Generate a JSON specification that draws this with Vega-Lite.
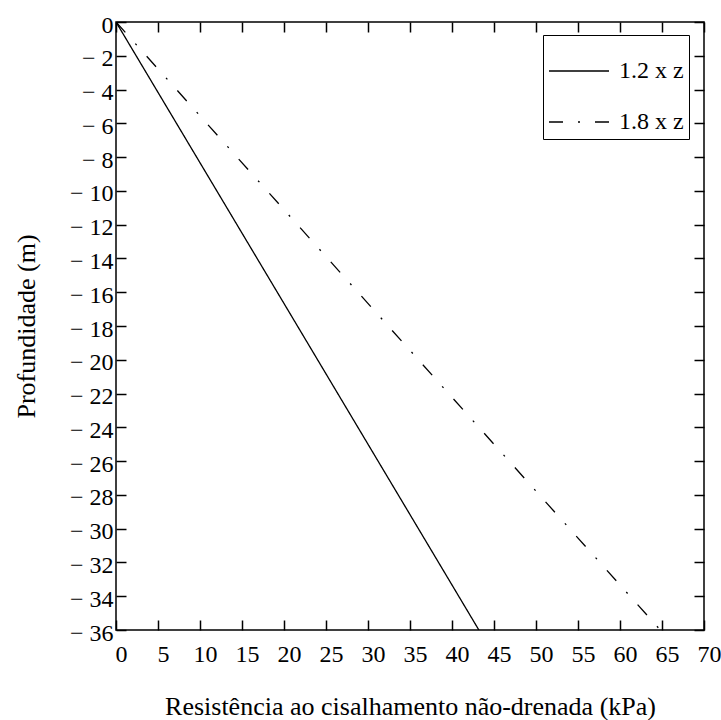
{
  "$schema": "https://vega.github.io/schema/vega-lite/v6.json",
  "width": 588,
  "height": 608,
  "autosize": {"type": "none"},
  "padding": {"left": 116, "top": 22, "right": 17, "bottom": 90},
  "background": "white",
  "config": {
    "font": "Liberation Serif",
    "view": {"stroke": "black", "strokeWidth": 1.5},
    "axis": {
      "domain": false,
      "grid": false,
      "tickColor": "black",
      "tickWidth": 1.5,
      "tickSize": -10,
      "labelColor": "black",
      "labelFont": "Liberation Serif",
      "labelFontSize": 24,
      "titleFont": "Liberation Serif",
      "titleFontSize": 26,
      "titleFontWeight": "normal",
      "titleColor": "black"
    },
    "legend": {
      "labelFont": "Liberation Serif",
      "labelFontSize": 24,
      "labelColor": "black"
    }
  },
  "data": {
    "values": [
      {"series": "1.2 x z", "strength": 0, "depth": 0},
      {"series": "1.2 x z", "strength": 43.2, "depth": -36},
      {"series": "1.8 x z", "strength": 0, "depth": 0},
      {"series": "1.8 x z", "strength": 64.8, "depth": -36}
    ]
  },
  "resolve": {"axis": {"x": "independent", "y": "independent"}},
  "layer": [
    {
      "mark": {"type": "line", "color": "black", "strokeWidth": 1.3, "clip": true},
      "encoding": {
        "x": {
          "field": "strength", "type": "quantitative",
          "scale": {"domain": [0, 70], "nice": false},
          "axis": {
            "orient": "bottom",
            "values": [0, 5, 10, 15, 20, 25, 30, 35, 40, 45, 50, 55, 60, 65, 70],
            "labelPadding": 22,
            "labelOffset": 5,
            "labelFlush": false,
            "title": "Resistência ao cisalhamento não-drenada (kPa)",
            "titleBaseline": "middle",
            "titleY": 76
          }
        },
        "y": {
          "field": "depth", "type": "quantitative",
          "scale": {"domain": [-36, 0], "nice": false},
          "axis": {
            "orient": "left",
            "values": [0, -2, -4, -6, -8, -10, -12, -14, -16, -18, -20, -22, -24, -26, -28, -30, -32, -34, -36],
            "labelExpr": "datum.value == 0 ? '0' : '\u2212 ' + abs(datum.value)",
            "labelPadding": 13,
            "labelOffset": 3,
            "labelFlush": false,
            "title": "Profundidade (m)",
            "titleBaseline": "middle",
            "titleX": -90
          }
        },
        "strokeDash": {
          "field": "series", "type": "nominal",
          "scale": {"domain": ["1.2 x z", "1.8 x z"], "range": [[1, 0], [14, 15, 2, 15]]},
          "legend": {
            "title": null,
            "orient": "none",
            "legendX": 427,
            "legendY": 13,
            "strokeColor": "black",
            "padding": 5,
            "symbolType": "stroke",
            "symbolSize": 3600,
            "symbolStrokeWidth": 1.5,
            "symbolStrokeColor": "black",
            "labelOffset": 9,
            "rowPadding": 8
          }
        }
      }
    },
    {
      "mark": {"type": "line", "opacity": 0},
      "encoding": {
        "x": {
          "field": "strength", "type": "quantitative",
          "scale": {"domain": [0, 70], "nice": false},
          "axis": {"orient": "top", "values": [0, 5, 10, 15, 20, 25, 30, 35, 40, 45, 50, 55, 60, 65, 70], "labels": false, "title": null}
        },
        "y": {
          "field": "depth", "type": "quantitative",
          "scale": {"domain": [-36, 0], "nice": false},
          "axis": {"orient": "right", "values": [0, -2, -4, -6, -8, -10, -12, -14, -16, -18, -20, -22, -24, -26, -28, -30, -32, -34, -36], "labels": false, "title": null}
        },
        "detail": {"field": "series", "type": "nominal"}
      }
    }
  ]
}
